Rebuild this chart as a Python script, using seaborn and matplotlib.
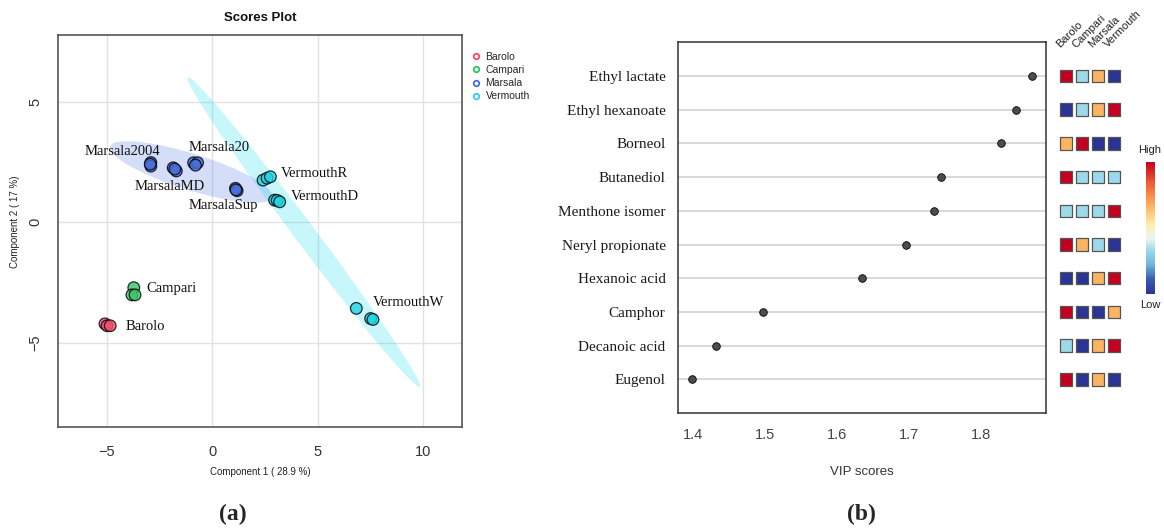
import numpy as np
import pandas as pd
import matplotlib
matplotlib.use("Agg")
import matplotlib.pyplot as plt
import seaborn as sns
from matplotlib.patches import Ellipse
from matplotlib.lines import Line2D
from matplotlib.colors import Normalize, LinearSegmentedColormap
from matplotlib.cm import ScalarMappable

# ---------------- data: scores plot (a) ----------------
groups = ["Barolo", "Campari", "Marsala", "Vermouth"]
point_colors = ["#F0506E", "#3CC46A", "#4A6FD8", "#22D4E6"]
legend_colors = ["#FF3D63", "#1FC25A", "#3D66E0", "#1FD0EE"]

sample_group = (["Barolo"] * 3 + ["Campari"] * 3 + ["Marsala"] * 12 + ["Vermouth"] * 9)
sample_x = [-5.10, -5.00, -4.85,
            -3.73, -3.82, -3.67,
            -2.92, -2.92, -2.95,
            -1.86, -1.71, -1.78,
            -0.89, -0.70, -0.80,
            1.10, 1.18, 1.12,
            2.41, 2.60, 2.76,
            2.96, 3.08, 3.20,
            6.84, 7.52, 7.63]
sample_y = [-4.22, -4.30, -4.30,
            -2.72, -3.02, -3.02,
            2.47, 2.32, 2.40,
            2.25, 2.12, 2.20,
            2.46, 2.46, 2.36,
            1.40, 1.30, 1.34,
            1.74, 1.82, 1.88,
            0.91, 0.90, 0.84,
            -3.58, -4.00, -4.04]

label_text = ["Marsala2004", "Marsala20", "MarsalaMD", "MarsalaSup",
              "VermouthR", "VermouthD", "Campari", "Barolo", "VermouthW"]
label_x = [-4.28, 0.33, -2.03, 0.51, 4.86, 5.33, -1.95, -3.20, 9.30]
label_y = [2.92, 3.10, 1.46, 0.68, 2.02, 1.05, -2.77, -4.34, -3.35]

ellipse_group = ["Marsala", "Vermouth"]
ellipse_cx = [-1.00, 4.345]
ellipse_cy = [2.08, -0.415]
ellipse_semi_major = [3.996, 8.46]
ellipse_semi_minor = [0.76, 0.47]
ellipse_angle = [-15.14, -49.3]
ellipse_colors = ["#4169E1", "#00D8EE"]

# ---------------- data: VIP plot (b) ----------------
compounds = ["Ethyl lactate", "Ethyl hexanoate", "Borneol", "Butanediol",
             "Menthone isomer", "Neryl propionate", "Hexanoic acid",
             "Camphor", "Decanoic acid", "Eugenol"]
vip_scores = [1.871, 1.849, 1.828, 1.744, 1.734, 1.696, 1.634, 1.497, 1.431, 1.398]
level_barolo = [4, 1, 3, 4, 2, 4, 1, 4, 2, 4]
level_campari = [2, 2, 4, 2, 2, 3, 1, 1, 1, 1]
level_marsala = [3, 3, 1, 2, 2, 2, 3, 1, 3, 3]
level_vermouth = [1, 4, 1, 2, 4, 1, 4, 3, 4, 1]
vip_ticks = [1.4, 1.5, 1.6, 1.7, 1.8]

# ---------------- styling ----------------
sns.set_style("white")
plt.rcParams["font.family"] = ["Liberation Sans", "DejaVu Sans"]
serif = ["Liberation Serif", "DejaVu Serif"]

W, H = 1164, 530
fig = plt.figure(figsize=(W / 100, H / 100), dpi=100)

def fx(px):
    return px / W

def fy(py):
    return 1 - py / H

# ---------------- panel (a) ----------------
ax1 = fig.add_axes([fx(58), fy(427), fx(462 - 58), (427 - 35) / H])
scores = pd.DataFrame({"group": sample_group, "x": sample_x, "y": sample_y})
pal = dict(zip(groups, point_colors))

for g, cx, cy, a, b, ang, col in zip(ellipse_group, ellipse_cx, ellipse_cy,
                                     ellipse_semi_major, ellipse_semi_minor,
                                     ellipse_angle, ellipse_colors):
    ax1.add_patch(Ellipse((cx, cy), 2 * a, 2 * b, angle=ang, facecolor=col,
                          edgecolor="none", alpha=0.22, zorder=1))

sns.scatterplot(data=scores, x="x", y="y", hue="group", palette=pal, s=70,
                edgecolor="black", linewidth=0.9, alpha=0.8, legend=False,
                ax=ax1, zorder=3)

for t, x, y in zip(label_text, label_x, label_y):
    ax1.text(x, y, t, family=serif, fontsize=10.5, ha="center", va="center",
             color="#111111", zorder=4)

ax1.set_xlim(-7.33, 11.86)
ax1.set_ylim(-8.5, 7.76)
ax1.set_xticks([-5, 0, 5, 10])
ax1.set_yticks([-5, 0, 5])
ax1.grid(True, color="#E2E2E2", lw=1.0, zorder=0)
ax1.set_axisbelow(True)
for s in ax1.spines.values():
    s.set_color("#555555")
    s.set_linewidth(1.2)
ax1.tick_params(axis="both", direction="out", length=4, width=1, color="#555555",
                labelsize=10.5, labelcolor="#333333")
ax1.tick_params(axis="x", pad=9)
ax1.tick_params(axis="y", pad=7)
for lab in ax1.get_yticklabels():
    lab.set_rotation(90)
    lab.set_va("center")
ax1.set_xlabel("")
ax1.set_ylabel("")

fig.text(fx(260), fy(18), "Scores Plot", fontweight="bold", fontsize=9.5,
         ha="center", va="center", color="#111111")
fig.text(fx(260), fy(472), "Component 1 ( 28.9 %)", fontsize=7, ha="center",
         va="center", color="#222222")
fig.text(fx(15), fy(222), "Component 2 ( 17 %)", fontsize=7, ha="center",
         va="center", rotation=90, color="#222222")

handles = [Line2D([], [], marker="o", ls="", markerfacecolor="none",
                  markeredgecolor=c, markersize=4, markeredgewidth=1.2)
           for c in legend_colors]
fig.legend(handles, groups, loc="upper left",
           bbox_to_anchor=(fx(472), fy(52)), frameon=False, fontsize=7.5,
           handlelength=0.8, handletextpad=0.5, labelspacing=0.3, borderpad=0,
           borderaxespad=0)

fig.text(fx(233), fy(514), "(a)", family=serif, fontweight="bold", fontsize=17,
         ha="center", va="center")

# ---------------- panel (b) ----------------
ax2 = fig.add_axes([fx(678), fy(413), fx(1045.7 - 678), (413 - 42.3) / H])
rows = np.arange(len(compounds))
vip_df = pd.DataFrame({"compound": compounds, "vip": vip_scores, "row": rows})
sns.scatterplot(data=vip_df, x="vip", y="row", color="#4D4D4D", edgecolor="black",
                s=30, linewidth=0.6, ax=ax2, zorder=3, legend=False)
ax2.set_ylim(len(compounds), -1)
ax2.set_xlim(1.3787, 1.890)
ax2.set_yticks(rows)
ax2.set_yticklabels(compounds, family=serif, fontsize=11, color="#1A1A1A")
ax2.set_xticks(vip_ticks)
ax2.set_xticklabels([f"{v:.1f}" for v in vip_ticks])
ax2.yaxis.grid(True, color="#D6D6D6", lw=1.3, zorder=0)
ax2.xaxis.grid(False)
ax2.set_axisbelow(True)
for s in ax2.spines.values():
    s.set_color("#333333")
    s.set_linewidth(1.1)
ax2.tick_params(axis="y", length=0, pad=9)
ax2.tick_params(axis="x", direction="out", length=5.5, width=1, color="#555555",
                labelsize=10.5, labelcolor="#444444", pad=5)
ax2.set_xlabel("")
ax2.set_ylabel("")
fig.text(fx(862), fy(472), "VIP scores", fontsize=9.5, ha="center", va="center",
         color="#333333")
fig.text(fx(861), fy(514), "(b)", family=serif, fontweight="bold", fontsize=17,
         ha="center", va="center")

# ---------------- heat squares ----------------
cmap = LinearSegmentedColormap.from_list(
    "vip_heat",
    [(0.0, "#2B3494"), (0.12, "#3A5FB0"), (0.22, "#6FB4DA"), (0.333, "#9CDAEB"),
     (0.42, "#E8F6F0"), (0.52, "#FFF0B0"), (0.667, "#FDB462"), (0.82, "#F4663A"),
     (1.0, "#C4001F")])
levels = [level_barolo, level_campari, level_marsala, level_vermouth]
heat_df = pd.DataFrame({
    "col": np.repeat(np.arange(len(groups)), len(compounds)),
    "row": np.tile(rows, len(groups)),
    "level": np.concatenate(levels),
})
axh = fig.add_axes([fx(1057.7), fy(413), fx(1122 - 1057.7), (413 - 42.3) / H])
sns.scatterplot(data=heat_df, x="col", y="row", hue="level", palette=cmap,
                hue_norm=(1, 4), marker="s", s=80, edgecolor="#555555",
                linewidth=0.9, legend=False, ax=axh)
axh.set_xlim(-0.5, len(groups) - 0.5)
axh.set_ylim(len(compounds), -1)
axh.axis("off")
for j, g in enumerate(groups):
    axh.text(j - 0.35, -0.82, g, rotation=45, rotation_mode="anchor", ha="left",
             va="baseline", fontsize=8, color="#222222", clip_on=False)

# ---------------- colour bar ----------------
axc = fig.add_axes([fx(1145.7), fy(294.3), fx(9.3), (294.3 - 161.7) / H])
cb = fig.colorbar(ScalarMappable(norm=Normalize(1, 4), cmap=cmap), cax=axc)
cb.set_ticks([])
cb.outline.set_visible(False)
fig.text(fx(1150), fy(150), "High", fontsize=8, ha="center", va="center",
         color="#222222")
fig.text(fx(1150), fy(305), "Low", fontsize=8, ha="center", va="center",
         color="#222222")

fig.savefig("out.png", dpi=100)
